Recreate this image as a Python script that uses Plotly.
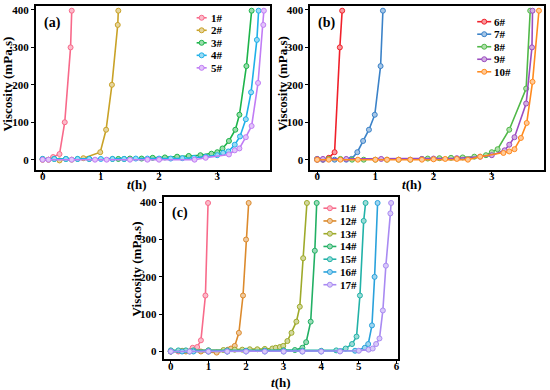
import plotly.graph_objects as go

# ---------------- data ----------------
names_a = ["1#", "2#", "3#", "4#", "5#"]
colors_a = ["#F8698A", "#C9A227", "#1DB44A", "#1FB0E8", "#C07CF5"]
x1 = [0, 0.1, 0.18, 0.29, 0.38, 0.48, 0.50]
y1 = [0, 0, 7, 15, 100, 300, 398]
x2 = [0, 0.1, 0.29, 0.5, 0.7, 0.99, 1.09, 1.19, 1.29, 1.30]
y2 = [0, 0, -2, 0, 4, 20, 80, 200, 360, 398]
x3 = [0, 0.2, 0.4, 0.6, 0.8, 1.2, 1.3, 1.4, 1.5, 1.7, 1.89, 2.1, 2.31, 2.51, 2.71, 2.9, 3.0, 3.09, 3.2, 3.31, 3.38, 3.5, 3.59]
y3 = [2, 2, 2, 2, 2, 2, 2, 2, 3, 3, 5, 6, 8, 10, 12, 16, 20, 30, 50, 80, 120, 250, 398]
x4 = [0, 0.2, 0.4, 0.6, 0.8, 1.0, 1.2, 1.4, 1.6, 1.8, 2.0, 2.2, 2.4, 2.6, 2.8, 3.0, 3.1, 3.19, 3.3, 3.39, 3.49, 3.58, 3.68, 3.71]
y4 = [2, 2, 2, 2, 2, 2, 2, 2, 3, 3, 3, 3, 4, 5, 8, 12, 18, 22, 40, 62, 108, 180, 320, 398]
x5 = [0, 0.1, 0.5, 0.9, 1.1, 1.5, 1.8, 2.0, 2.61, 2.8, 3.2, 3.3, 3.38, 3.49, 3.59, 3.7, 3.79, 3.8]
y5 = [0, 0, 0, 0, 0, 0, 0, 0, 0, 5, 14, 25, 30, 60, 90, 205, 360, 398]

names_b = ["6#", "7#", "8#", "9#", "10#"]
colors_b = ["#F0202A", "#3B82C8", "#50B848", "#9B4DC0", "#FF8A1E"]
x6 = [0, 0.1, 0.2, 0.3, 0.39, 0.43]
y6 = [0, 0, 5, 20, 300, 398]
x7 = [0, 0.1, 0.3, 0.5, 0.59, 0.69, 0.79, 0.89, 0.99, 1.09, 1.13]
y7 = [0, 0, 0, 0, 2, 20, 50, 80, 120, 250, 398]
x8 = [0, 0.2, 0.4, 0.6, 0.8, 1.0, 1.2, 1.4, 1.6, 1.8, 1.9, 2.1, 2.3, 2.5, 2.7, 2.9, 3.0, 3.1, 3.3, 3.59, 3.66]
y8 = [2, 2, 2, 0, 0, 0, 0, 0, 0, 2, 3, 4, 5, 6, 8, 12, 20, 28, 80, 190, 398]
x9 = [0, 0.1, 0.5, 1.1, 1.8, 2.0, 2.4, 2.8, 3.0, 3.22, 3.3, 3.39, 3.59, 3.69, 3.7]
y9 = [2, 2, 2, 2, 2, 3, 4, 8, 12, 25, 40, 60, 150, 300, 398]
x10 = [0, 0.2, 0.4, 0.7, 1.0, 1.2, 1.4, 1.6, 1.8, 2.0, 2.2, 2.4, 2.59, 2.8, 3.2, 3.3, 3.39, 3.5, 3.6, 3.7, 3.81]
y10 = [0, 0, 0, 0, 0, 0, 0, 0, 0, 1, 2, 2, 0, 8, 18, 22, 28, 58, 98, 208, 398]

names_c = ["11#", "12#", "13#", "14#", "15#", "16#", "17#"]
colors_c = ["#F86A8A", "#DC8A2C", "#9EAA2A", "#22B064", "#22B2A8", "#2AA2DC", "#A98AF2"]
x11 = [0, 0.2, 0.4, 0.58, 0.7, 0.8, 0.92, 0.99]
y11 = [0, 0, 2, 10, 12, 30, 150, 398]
x12 = [0, 0.4, 0.8, 1.22, 1.52, 1.6, 1.7, 1.81, 1.92, 2.0, 2.07]
y12 = [0, 0, 0, -3, 5, 8, 15, 50, 150, 300, 398]
x13 = [0, 0.3, 0.6, 1.0, 1.4, 1.7, 1.9, 2.1, 2.3, 2.5, 2.7, 2.79, 2.9, 2.99, 3.1, 3.21, 3.34, 3.43, 3.52, 3.62]
y13 = [2, 2, 2, 3, 4, 5, 5, 6, 6, 7, 8, 10, 12, 15, 28, 50, 80, 120, 250, 398]
x14 = [0, 0.5, 1.0, 1.5, 2.0, 2.5, 3.0, 3.3, 3.5, 3.6, 3.72, 3.83, 3.88]
y14 = [0, 0, 0, 0, 2, 2, 3, 4, 10, 25, 80, 270, 398]
x15 = [0, 0.2, 0.4, 0.6, 1.0, 1.5, 2.0, 2.5, 3.0, 3.5, 4.0, 4.4, 4.65, 4.82, 4.94, 5.03, 5.13, 5.18]
y15 = [3, 3, 3, 3, 3, 3, 2, 2, 2, 2, 2, 3, 8, 20, 40, 150, 350, 398]
x16 = [0, 0.3, 0.6, 1.0, 1.5, 2.0, 2.5, 3.0, 3.5, 4.0, 4.5, 4.9, 5.16, 5.25, 5.35, 5.42, 5.5]
y16 = [0, 0, 0, 0, 0, 0, 0, 0, 0, 0, 1, 2, 10, 20, 70, 200, 398]
x17 = [0, 0.5, 1.0, 1.5, 2.0, 2.5, 3.0, 3.5, 4.0, 4.5, 5.0, 5.26, 5.37, 5.46, 5.55, 5.64, 5.72, 5.84, 5.86]
y17 = [0, 0, 0, 0, 0, 0, 0, 0, 0, 0, 2, 5, 8, 20, 35, 110, 230, 370, 398]

yticks = [0, 100, 200, 300, 400]
xticks_ab = [0, 1, 2, 3]
xticks_c = [0, 1, 2, 3, 4, 5, 6]

panels = [
    dict(ax="", names=names_a, colors=colors_a,
         xs=[x1, x2, x3, x4, x5], ys=[y1, y2, y3, y4, y5], label="(a)"),
    dict(ax="2", names=names_b, colors=colors_b,
         xs=[x6, x7, x8, x9, x10], ys=[y6, y7, y8, y9, y10], label="(b)"),
    dict(ax="3", names=names_c, colors=colors_c,
         xs=[x11, x12, x13, x14, x15, x16, x17], ys=[y11, y12, y13, y14, y15, y16, y17], label="(c)"),
]

W, H = 550, 390
FONT = "Liberation Serif"


def lighten(hexc, f=0.55):
    h = hexc.lstrip("#")
    r, g, b = int(h[0:2], 16), int(h[2:4], 16), int(h[4:6], 16)
    r = int(r + (255 - r) * f); g = int(g + (255 - g) * f); b = int(b + (255 - b) * f)
    return f"rgb({r},{g},{b})"


fig = go.Figure()
for p in panels:
    for nm, c, xs, ys in zip(p["names"], p["colors"], p["xs"], p["ys"]):
        fig.add_trace(go.Scatter(
            x=xs, y=ys, mode="lines+markers", name=nm, showlegend=False,
            xaxis="x" + p["ax"], yaxis="y" + p["ax"],
            line=dict(color=c, width=1.6),
            marker=dict(symbol="circle", size=5, color=lighten(c), line=dict(color=c, width=1)),
        ))

# pixel layout per panel: plot box (left, right, top, bottom), y-title (x, y centre), x-title (x, y centre)
boxes = {"": (36, 270, 4, 168.5), "2": (311, 545, 4, 168.5), "3": (164, 399, 196, 359.3)}
ytitle = {"": (8, 82), "2": (283, 82), "3": (137, 268)}
xtitle = {"": (137, 183.5), "2": (413, 183.5), "3": (281.5, 382.5)}


def dom(b):
    l, r, t, bt = b
    return [l / W, r / W], [1 - bt / H, 1 - t / H]


tfont = dict(family=FONT, size=11, color="black", weight="bold")
axis_common = dict(showline=True, linecolor="black", linewidth=2, mirror=True,
                   ticks="outside", ticklen=3, tickwidth=1.2, tickcolor="black",
                   showgrid=False, zeroline=False, tickfont=tfont)

lay = {}
for key, b in boxes.items():
    dx, dy = dom(b)
    if key == "3":
        xr, yr, xt = [-0.19, 6.05], [-21.3, 414], xticks_c
    else:
        xr, yr, xt = [-0.115, 3.897], [-26.6, 410.6], xticks_ab
    lay["xaxis" + key] = dict(domain=dx, range=xr, tickvals=xt, anchor="y" + key,
                              ticklabelstandoff=-8, **axis_common)
    lay["yaxis" + key] = dict(domain=dy, range=yr, tickvals=yticks, anchor="x" + key,
                              ticklabelstandoff=0, **axis_common)

fig.update_layout(**lay)

annotations = []
shapes = []
# legend geometry per panel: (line x0, line x1, text x, first row y, row step) in domain fractions
leg = {"": (0.688, 0.731, 0.739, 0.928, 0.0765),
       "2": (0.714, 0.774, 0.778, 0.904, 0.0765),
       "3": (0.681, 0.736, 0.745, 0.931, 0.0785)}

bold13 = dict(family=FONT, size=13, color="black", weight="bold")
for p in panels:
    k = p["ax"]
    xref = ("x" + k if k else "x") + " domain"
    yref = ("y" + k if k else "y") + " domain"
    annotations.append(dict(text=p["label"], xref=xref, yref=yref, x=0.025, y=0.96,
                            xanchor="left", yanchor="top", showarrow=False,
                            font=dict(family=FONT, size=14, color="black", weight="bold")))
    tx_, ty_ = ytitle[k]
    annotations.append(dict(text="Viscosity (mPa.s)", xref="paper", yref="paper",
                            x=tx_ / W, y=1 - ty_ / H, textangle=-90, showarrow=False,
                            xanchor="center", yanchor="middle", font=bold13))
    hx_, hy_ = xtitle[k]
    annotations.append(dict(text="<i>t</i>(h)", xref="paper", yref="paper",
                            x=hx_ / W, y=1 - hy_ / H, showarrow=False,
                            xanchor="center", yanchor="middle", font=bold13))
    lx0, lx1, tx, y0, step = leg[k]
    for i, (nm, c) in enumerate(zip(p["names"], p["colors"])):
        yy = y0 - i * step
        shapes.append(dict(type="line", xref=xref, yref=yref, x0=lx0, x1=lx1, y0=yy, y1=yy,
                           line=dict(color=c, width=1.6)))
        xm = (lx0 + lx1) / 2
        shapes.append(dict(type="circle", xref=xref, yref=yref, xsizemode="pixel", ysizemode="pixel",
                           xanchor=xm, yanchor=yy, x0=-2.5, x1=2.5, y0=-2.5, y1=2.5,
                           fillcolor=lighten(c), line=dict(color=c, width=1)))
        annotations.append(dict(text=nm, xref=xref, yref=yref, x=tx, y=yy, xanchor="left",
                                yanchor="middle", showarrow=False,
                                font=dict(family=FONT, size=11, color="black", weight="bold")))

fig.update_layout(
    width=W, height=H, margin=dict(l=0, r=0, t=0, b=0),
    paper_bgcolor="white", plot_bgcolor="white",
    annotations=annotations, shapes=shapes, showlegend=False,
)

fig.write_html("out.html", config={"displayModeBar": False},
               post_script="document.body.style.margin='0';")
